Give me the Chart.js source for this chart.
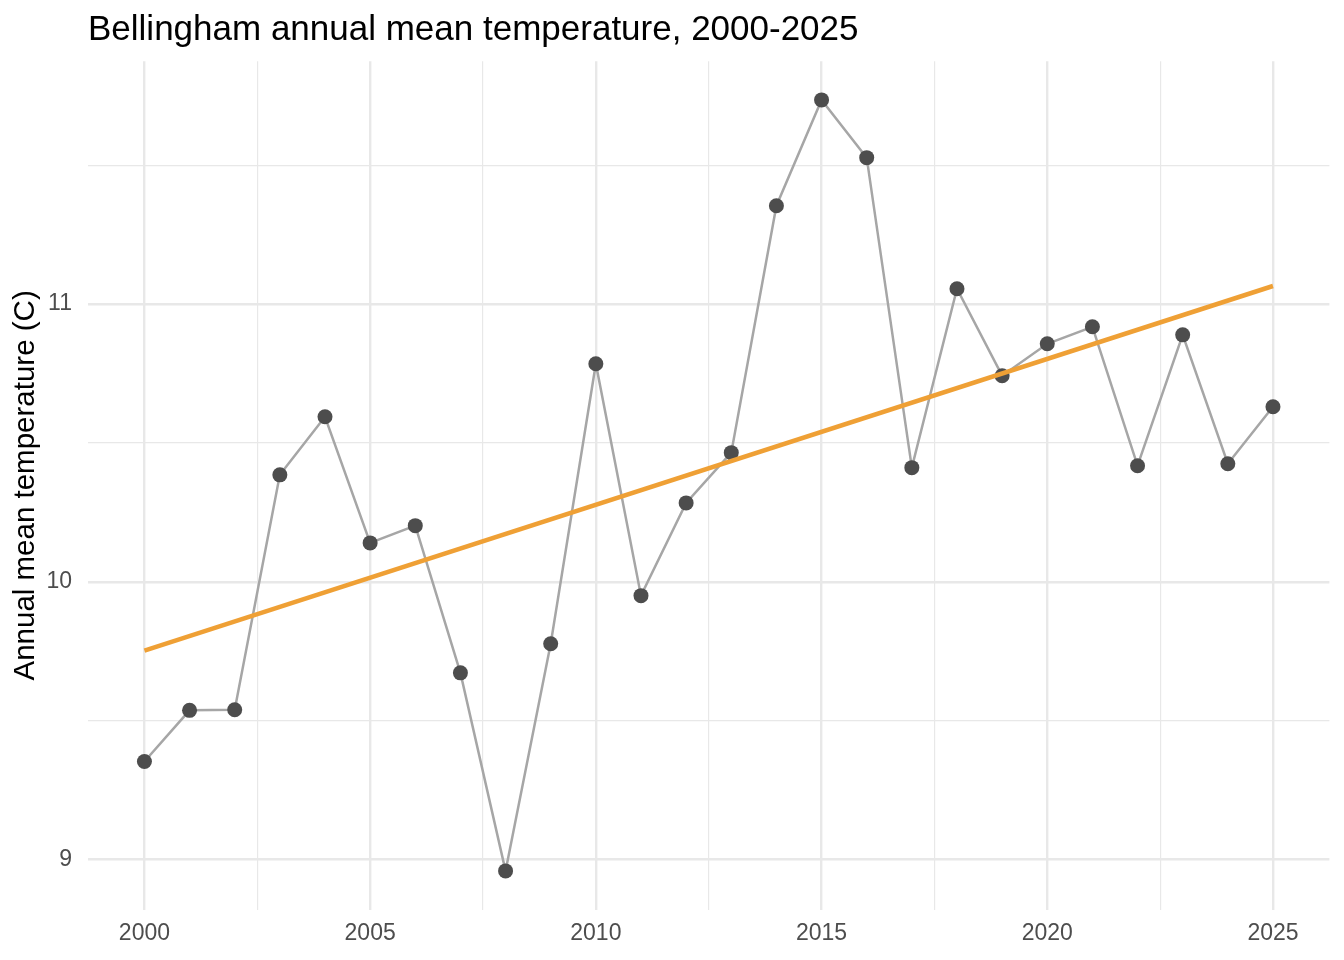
<!DOCTYPE html>
<html>
<head>
<meta charset="utf-8">
<title>Bellingham annual mean temperature</title>
<script src="https://cdn.jsdelivr.net/npm/chart.js@4/dist/chart.umd.min.js"></script>
<style>
  html, body { margin: 0; padding: 0; background: #fff; }
  canvas { display: block; }
</style>
</head>
<body>
<canvas id="chart" width="1344" height="960"></canvas>
<script>
// values
const chartTitle = 'Bellingham annual mean temperature, 2000-2025';
const yTitle = 'Annual mean temperature (C)';

const years = [2000, 2001, 2002, 2003, 2004, 2005, 2006, 2007, 2008, 2009,
  2010, 2011, 2012, 2013, 2014, 2015, 2016, 2017, 2018, 2019,
  2020, 2021, 2022, 2023, 2024, 2025];
const meanTemp = [9.353, 9.537, 9.539, 10.385, 10.594, 10.140, 10.202, 9.672, 8.959, 9.777,
  10.785, 9.950, 10.284, 10.465, 11.354, 11.735, 11.527, 10.411, 11.055, 10.742,
  10.857, 10.918, 10.418, 10.889, 10.425, 10.630];

// linear trend, ends as drawn
const trendYears = [2000, 2025];
const trendTemp = [9.752, 11.065];

const xMajorTicks = [2000, 2005, 2010, 2015, 2020, 2025];
const xMinorTicks = [2002.5, 2007.5, 2012.5, 2017.5, 2022.5];
const yMajorTicks = [9, 10, 11];
const yMinorTicks = [9.5, 10.5, 11.5];

const FONT = '"Liberation Sans", Arial, Helvetica, sans-serif';
const GRID = '#e8e8e8';

const allTicks = (major, minor) => major.concat(minor).sort((a, b) => a - b);

const titlePlugin = {
  id: 'panelTitle',
  afterDraw(chart) {
    const { ctx, chartArea } = chart;
    ctx.save();
    ctx.font = '35px ' + FONT;
    ctx.fillStyle = '#000';
    ctx.textBaseline = 'alphabetic';
    ctx.textAlign = 'left';
    ctx.fillText(chartTitle, chartArea.left, 40);
    ctx.restore();
  }
};

new Chart(document.getElementById('chart'), {
  type: 'line',
  data: {
    datasets: [
      {
        label: 'trend',
        data: trendYears.map((x, i) => ({ x, y: trendTemp[i] })),
        borderColor: '#efa035',
        borderWidth: 4.5,
        borderCapStyle: 'butt',
        pointRadius: 0,
        pointHoverRadius: 0
      },
      {
        label: 'annual mean',
        data: years.map((x, i) => ({ x, y: meanTemp[i] })),
        borderColor: '#a6a6a6',
        borderWidth: 2.5,
        tension: 0,
        pointRadius: 7.5,
        pointHoverRadius: 7.5,
        pointBorderWidth: 0,
        pointBackgroundColor: '#4d4d4d'
      }
    ]
  },
  options: {
    responsive: false,
    devicePixelRatio: 1,
    animation: false,
    layout: { padding: { top: 61.3, right: 14.6, bottom: 0, left: 0 } },
    plugins: {
      legend: { display: false },
      tooltip: { enabled: false },
      title: { display: false }
    },
    scales: {
      x: {
        type: 'linear',
        min: 1998.75,
        max: 2026.25,
        afterBuildTicks: (scale) => {
          scale.ticks = allTicks(xMajorTicks, xMinorTicks).map(v => ({ value: v }));
        },
        afterFit: (scale) => { scale.height = 50.5; },
        border: { display: false },
        grid: {
          color: GRID,
          drawTicks: false,
          lineWidth: (c) => (c.tick && xMajorTicks.includes(c.tick.value) ? 2.4 : 1.2)
        },
        ticks: {
          autoSkip: false,
          maxRotation: 0,
          padding: 10,
          color: '#4d4d4d',
          font: { family: FONT, size: 23 },
          callback: (v) => (xMajorTicks.includes(v) ? String(v) : '')
        }
      },
      y: {
        type: 'linear',
        min: 8.82,
        max: 11.874,
        afterBuildTicks: (scale) => {
          scale.ticks = allTicks(yMajorTicks, yMinorTicks).map(v => ({ value: v }));
        },
        afterFit: (scale) => { scale.width = 88; },
        border: { display: false },
        grid: {
          color: GRID,
          drawTicks: false,
          lineWidth: (c) => (c.tick && yMajorTicks.includes(c.tick.value) ? 2.4 : 1.2)
        },
        ticks: {
          autoSkip: false,
          padding: 16,
          color: '#4d4d4d',
          font: { family: FONT, size: 23 },
          callback: (v) => (yMajorTicks.includes(v) ? String(v) : '')
        },
        title: {
          display: true,
          text: yTitle,
          color: '#000',
          padding: { top: 8, bottom: 0 },
          font: { family: FONT, size: 29.5 }
        }
      }
    }
  },
  plugins: [titlePlugin]
});
</script>
</body>
</html>
